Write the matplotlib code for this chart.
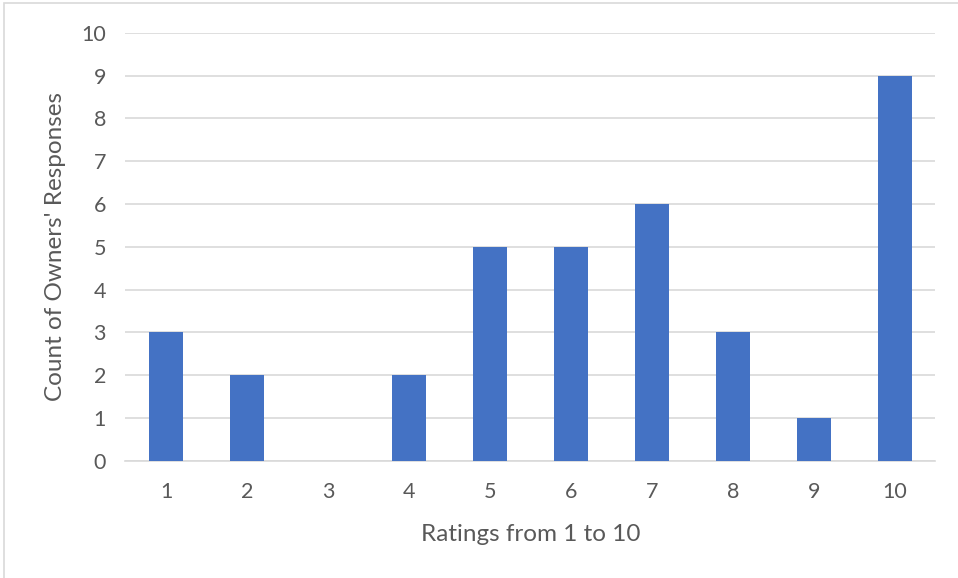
import matplotlib.pyplot as plt
from matplotlib.patches import Rectangle
import numpy as np

plt.rcParams['font.family'] = ['Lato', 'DejaVu Sans']

ratings = ['1', '2', '3', '4', '5', '6', '7', '8', '9', '10']
counts = [3, 2, 0, 2, 5, 5, 6, 3, 1, 9]

text_col = '#595959'
grid_col = '#D9D9D9'

fig = plt.figure(figsize=(9.58, 5.78), dpi=100)
ax = fig.add_axes([0.131, 0.2029, 0.8455, 0.7405])

x = np.arange(len(ratings))
ax.bar(x, counts, width=0.41, color='#4472C4', zorder=3)

ax.set_xlim(-0.5, len(ratings) - 0.5)
ax.set_ylim(0, 10)
ax.set_yticks(np.arange(0, 11, 1))
ax.set_xticks(x)
ax.set_xticklabels(ratings)

ax.yaxis.grid(True, color=grid_col, linewidth=1.2, zorder=0)
for s in ['top', 'right', 'left']:
    ax.spines[s].set_visible(False)
ax.spines['bottom'].set_color(grid_col)
ax.spines['bottom'].set_linewidth(1.2)
ax.tick_params(axis='both', length=0, labelsize=15.5, colors=text_col)
ax.tick_params(axis='x', pad=15)
ax.tick_params(axis='y', pad=14)

ax.set_xlabel('Ratings from 1 to 10', fontsize=17.5, color=text_col, labelpad=16)
ax.set_ylabel("Count of Owners' Responses", fontsize=17.5, color=text_col, labelpad=11)

# chart border
fig.patches.append(Rectangle((4 / 958, -0.1), 1.2, 1.1 - 3 / 578, transform=fig.transFigure,
                             fill=False, edgecolor='#D9D9D9', linewidth=1.2))

fig.savefig('out.png', dpi=100)
